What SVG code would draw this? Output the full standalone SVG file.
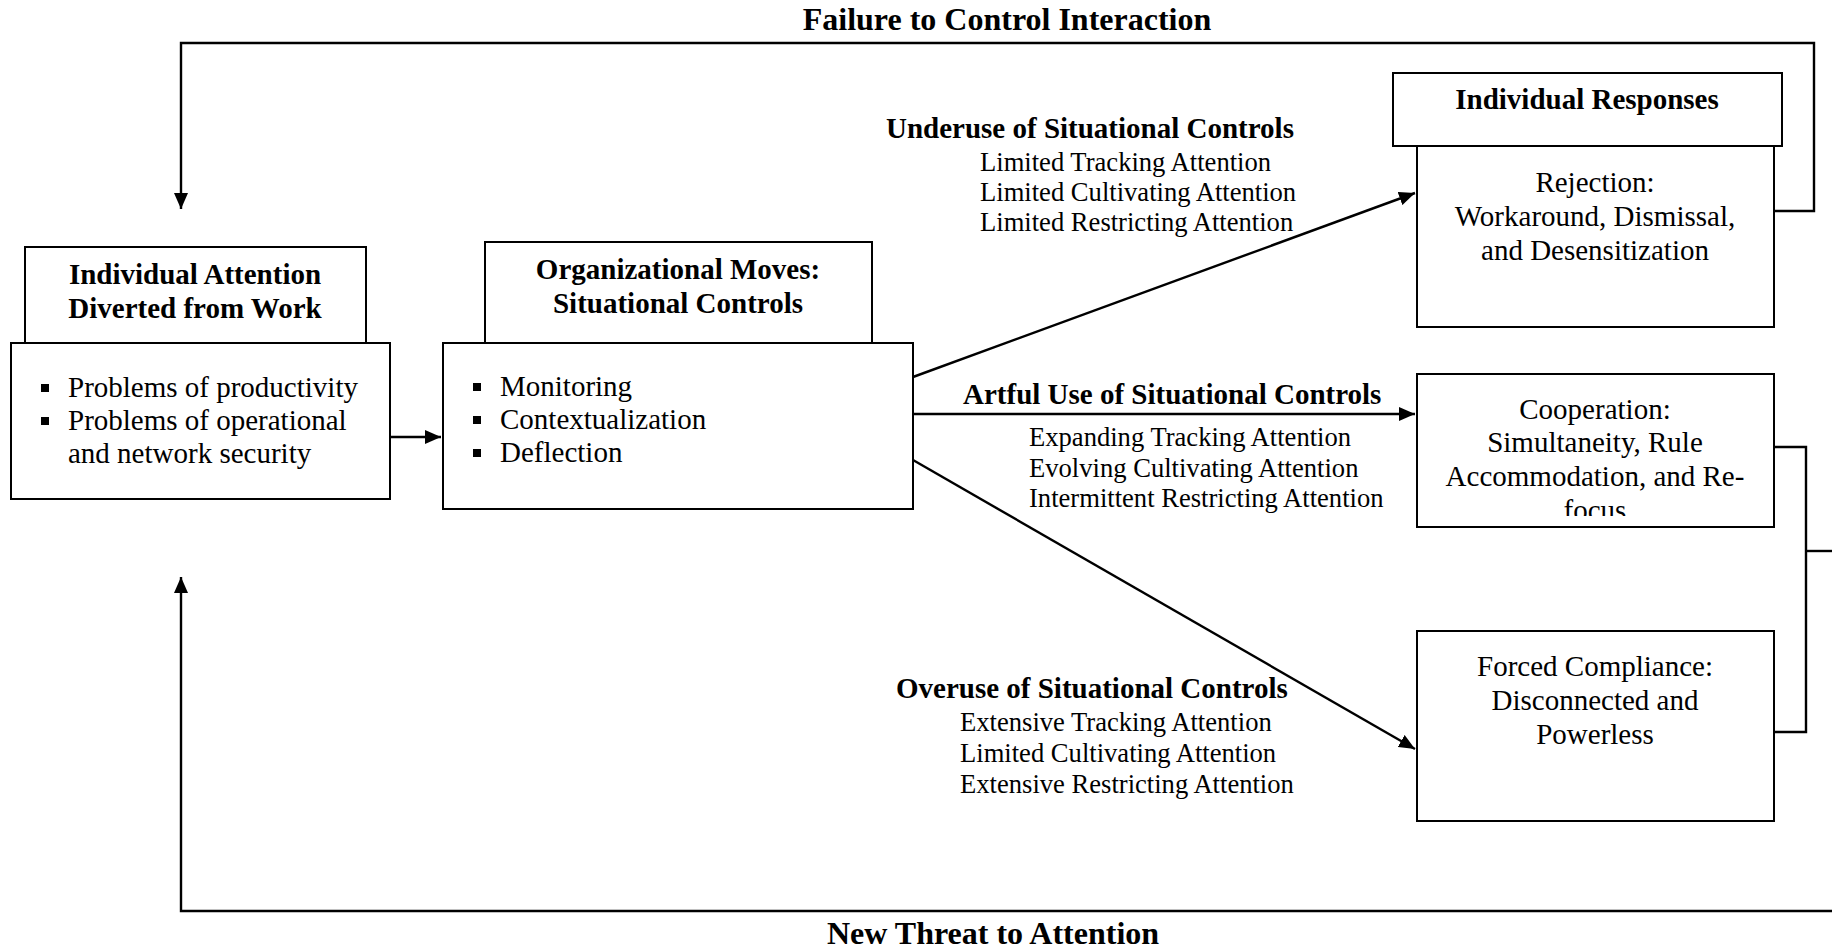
<svg xmlns="http://www.w3.org/2000/svg" width="1832" height="952" viewBox="0 0 1832 952">
<style>
  .box { fill: #fff; stroke: #000; stroke-width: 2; }
  .ln { fill: none; stroke: #000; stroke-width: 2.4; }
  .b { font-family: "Liberation Serif", "Times New Roman", serif; font-weight: bold; font-size: 29px; fill: #000; }
  .r { font-family: "Liberation Serif", "Times New Roman", serif; font-size: 29px; fill: #000; }
  .s { font-family: "Liberation Serif", "Times New Roman", serif; font-size: 26.6px; fill: #000; }
  .t { font-family: "Liberation Serif", "Times New Roman", serif; font-weight: bold; font-size: 32px; fill: #000; }
  .c { text-anchor: middle; }
</style>
<defs>
  <marker id="ah" markerUnits="userSpaceOnUse" markerWidth="17" markerHeight="14" refX="16" refY="7" orient="auto">
    <path d="M0,0 L16,7 L0,14 z" fill="#000"/>
  </marker>
  <clipPath id="coopClip"><rect x="1417" y="374" width="357" height="142"/></clipPath>
</defs>
<rect width="1832" height="952" fill="#fff"/>

<g id="connectors">
  <polyline class="ln" points="1774,211 1814,211 1814,43 181,43 181,209" marker-end="url(#ah)"/>
  <polyline class="ln" points="1774,447 1806,447 1806,732 1774,732"/>
  <line class="ln" x1="1806" y1="551" x2="1832" y2="551"/>
  <polyline class="ln" points="1832,911 181,911 181,577" marker-end="url(#ah)"/>
  <line class="ln" x1="390" y1="437" x2="441" y2="437" marker-end="url(#ah)"/>
  <line class="ln" x1="913" y1="377" x2="1415" y2="193" marker-end="url(#ah)"/>
  <line class="ln" x1="913" y1="414" x2="1415" y2="414" marker-end="url(#ah)"/>
  <line class="ln" x1="913" y1="460" x2="1415" y2="749" marker-end="url(#ah)"/>
</g>

<g id="labels">
  <text class="t c" x="1007" y="30">Failure to Control Interaction</text>
  <text class="t c" x="993" y="944">New Threat to Attention</text>
  <g id="label-underuse">
    <text class="b" x="886" y="138">Underuse of Situational Controls</text>
    <text class="s" x="980" y="171">Limited Tracking Attention</text>
    <text class="s" x="980" y="201">Limited Cultivating Attention</text>
    <text class="s" x="980" y="231">Limited Restricting Attention</text>
  </g>
  <g id="label-artful">
    <text class="b" x="963" y="404">Artful Use of Situational Controls</text>
    <text class="s" x="1029" y="446">Expanding Tracking Attention</text>
    <text class="s" x="1029" y="477">Evolving Cultivating Attention</text>
    <text class="s" x="1029" y="507">Intermittent Restricting Attention</text>
  </g>
  <g id="label-overuse">
    <text class="b" x="896" y="698">Overuse of Situational Controls</text>
    <text class="s" x="960" y="731">Extensive Tracking Attention</text>
    <text class="s" x="960" y="762">Limited Cultivating Attention</text>
    <text class="s" x="960" y="793">Extensive Restricting Attention</text>
  </g>
</g>

<g id="node-individual-attention">
  <rect class="box" x="25" y="247" width="341" height="96"/>
  <rect class="box" x="11" y="343" width="379" height="156"/>
  <text class="b c" x="195" y="284">Individual Attention</text>
  <text class="b c" x="195" y="318">Diverted from Work</text>
  <rect x="41" y="384" width="8" height="8" fill="#000"/>
  <rect x="41" y="417" width="8" height="8" fill="#000"/>
  <text class="r" x="68" y="397">Problems of productivity</text>
  <text class="r" x="68" y="430">Problems of operational</text>
  <text class="r" x="68" y="463">and network security</text>
</g>

<g id="node-organizational-moves">
  <rect class="box" x="485" y="242" width="387" height="101"/>
  <rect class="box" x="443" y="343" width="470" height="166"/>
  <text class="b c" x="678" y="279">Organizational Moves:</text>
  <text class="b c" x="678" y="313">Situational Controls</text>
  <rect x="473" y="383" width="8" height="8" fill="#000"/>
  <rect x="473" y="416" width="8" height="8" fill="#000"/>
  <rect x="473" y="449" width="8" height="8" fill="#000"/>
  <text class="r" x="500" y="396">Monitoring</text>
  <text class="r" x="500" y="429">Contextualization</text>
  <text class="r" x="500" y="462">Deflection</text>
</g>

<g id="node-individual-responses">
  <rect class="box" x="1393" y="73" width="389" height="73"/>
  <text class="b c" x="1587" y="109">Individual Responses</text>
</g>

<g id="node-rejection">
  <rect class="box" x="1417" y="146" width="357" height="181"/>
  <text class="r c" x="1595" y="192">Rejection:</text>
  <text class="r c" x="1595" y="226">Workaround, Dismissal,</text>
  <text class="r c" x="1595" y="260">and Desensitization</text>
</g>

<g id="node-cooperation">
  <rect class="box" x="1417" y="374" width="357" height="153"/>
  <g clip-path="url(#coopClip)">
    <text class="r c" x="1595" y="419">Cooperation:</text>
    <text class="r c" x="1595" y="452">Simultaneity, Rule</text>
    <text class="r c" x="1595" y="486">Accommodation, and Re-</text>
    <text class="r c" x="1595" y="520">focus</text>
  </g>
</g>

<g id="node-forced-compliance">
  <rect class="box" x="1417" y="631" width="357" height="190"/>
  <text class="r c" x="1595" y="676">Forced Compliance:</text>
  <text class="r c" x="1595" y="710">Disconnected and</text>
  <text class="r c" x="1595" y="744">Powerless</text>
</g>
</svg>
